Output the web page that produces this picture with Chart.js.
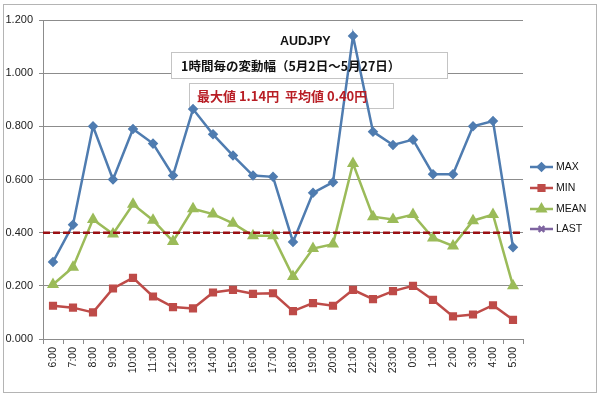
<!DOCTYPE html>
<html>
<head>
<meta charset="utf-8">
<script src="https://cdn.jsdelivr.net/npm/chart.js@4"></script>
<style>
    body { margin: 0; background: #fff; }
    #wrap { position: relative; width: 600px; height: 396px; }
    #frame { position: absolute; left: 3px; top: 4px; width: 592px; height: 387px; border: 1px solid #b4b4b4; pointer-events: none; }
    .txt { position: absolute; font-family: "Noto Sans CJK JP", sans-serif; font-weight: bold; white-space: nowrap; }
</style>
</head>
<body>
<div id="wrap">
    <canvas id="myChart" width="600" height="396"></canvas>
    <div id="frame"></div>
    <div class="txt" style="left:280px; top:34px; font-family:'Liberation Sans'; font-size:12.5px; color:#111;">AUDJPY</div>
    <div class="txt" style="left:181px; top:56px; font-size:12.5px; color:#111;">1時間毎の変動幅（5月2日～5月27日）</div>
    <div class="txt" style="left:197px; top:86px; font-size:13px; color:#b81d24;">最大値 1.14円&nbsp;&nbsp;平均値 0.40円</div>
</div>
<script>
var hours = ["6:00", "7:00", "8:00", "9:00", "10:00", "11:00", "12:00", "13:00", "14:00", "15:00", "16:00", "17:00",
    "18:00", "19:00", "20:00", "21:00", "22:00", "23:00", "0:00", "1:00", "2:00", "3:00", "4:00", "5:00"];
var maxValues = [0.29, 0.43, 0.80, 0.60, 0.79, 0.735, 0.615, 0.865, 0.77, 0.69, 0.615, 0.61,
    0.365, 0.55, 0.59, 1.14, 0.78, 0.73, 0.75, 0.62, 0.62, 0.80, 0.82, 0.345];
var minValues = [0.125, 0.118, 0.10, 0.19, 0.23, 0.16, 0.12, 0.115, 0.175, 0.185, 0.17, 0.172,
    0.105, 0.135, 0.125, 0.185, 0.15, 0.18, 0.20, 0.147, 0.085, 0.092, 0.127, 0.072];
var meanValues = [0.205, 0.27, 0.45, 0.395, 0.507, 0.447, 0.367, 0.49, 0.47, 0.435, 0.388, 0.388,
    0.235, 0.34, 0.357, 0.66, 0.46, 0.45, 0.468, 0.38, 0.35, 0.445, 0.468, 0.20];
var lastValues = [null, null, null, null, null, null, null, null, null, null, null, null,
    null, null, null, null, null, null, null, null, null, null, null, null];
var avgValue = 0.40;
var yTicks = [0, 0.2, 0.4, 0.6, 0.8, 1.0, 1.2];

// white text boxes behind the lines, dashed average line and the legend
var boxes = [[171, 52, 276, 26], [189, 83, 204, 25]];
var extras = {
    id: 'extras',
    beforeDatasetsDraw: function (chart) {
        var ctx = chart.ctx;
        ctx.save();
        ctx.fillStyle = "#fff";
        ctx.strokeStyle = "#c4c4c4";
        ctx.lineWidth = 1;
        boxes.forEach(function (b) {
            ctx.fillRect(b[0], b[1], b[2], b[3]);
            ctx.strokeRect(b[0] + 0.5, b[1] + 0.5, b[2], b[3]);
        });
        ctx.restore();
    },
    afterDatasetsDraw: function (chart) {
        var ctx = chart.ctx;
        var area = chart.chartArea;
        var y = chart.scales.y.getPixelForValue(avgValue);
        ctx.save();
        ctx.strokeStyle = "#9a1013";
        ctx.lineWidth = 2.5;
        ctx.setLineDash([7, 3]);
        ctx.beginPath();
        ctx.moveTo(area.left, y);
        ctx.lineTo(area.right, y);
        ctx.stroke();
        ctx.restore();
    },
    afterDraw: function (chart) {
        var ctx = chart.ctx;
        var ys = [167, 188, 209, 229];
        ctx.save();
        chart.data.datasets.forEach(function (ds, i) {
            var y = ys[i];
            ctx.strokeStyle = ds.borderColor;
            ctx.lineWidth = 2.5;
            ctx.setLineDash([]);
            ctx.beginPath();
            ctx.moveTo(530, y);
            ctx.lineTo(553, y);
            ctx.stroke();
            ctx.fillStyle = ds.pointBackgroundColor;
            ctx.strokeStyle = ds.borderColor;
            Chart.helpers.drawPoint(ctx, {
                pointStyle: ds.pointStyle,
                radius: ds.pointRadius,
                rotation: 0,
                borderWidth: 1.5
            }, 541.5, y);
            ctx.fillStyle = "#111";
            ctx.font = "10.5px 'Liberation Sans'";
            ctx.textBaseline = "middle";
            ctx.fillText(ds.label, 556, y + 0.5);
        });
        ctx.restore();
    }
};

const ctx = document.getElementById('myChart');
new Chart(ctx, {
    type: 'line',
    data: {
        labels: hours,
        datasets: [{
                label: 'MAX',
                data: maxValues,
                borderColor: '#4f7cb0',
                pointBackgroundColor: '#4f7cb0',
                pointBorderColor: '#4f7cb0',
                pointStyle: 'rectRot',
                pointRadius: 3.5,
                borderWidth: 2.5
            }, {
                label: 'MIN',
                data: minValues,
                borderColor: '#be4b48',
                pointBackgroundColor: '#be4b48',
                pointBorderColor: '#be4b48',
                pointStyle: 'rect',
                pointRadius: 4,
                borderWidth: 2.5
            }, {
                label: 'MEAN',
                data: meanValues,
                borderColor: '#9bbb59',
                pointBackgroundColor: '#9bbb59',
                pointBorderColor: '#9bbb59',
                pointStyle: 'triangle',
                pointRadius: 4.5,
                borderWidth: 2.5
            }, {
                label: 'LAST',
                data: lastValues,
                borderColor: '#7e64a0',
                pointBackgroundColor: '#7e64a0',
                pointBorderColor: '#7e64a0',
                pointStyle: 'crossRot',
                pointRadius: 4,
                borderWidth: 2.5
            }]
    },
    options: {
        responsive: false,
        animation: false,
        layout: {
            padding: {left: 0, top: 20, right: 77, bottom: 0}
        },
        elements: {
            line: {tension: 0}
        },
        plugins: {
            legend: {display: false},
            tooltip: {enabled: false}
        },
        scales: {
            x: {
                offset: true,
                afterFit: function (s) { s.height = 57; },
                grid: {offset: true, drawOnChartArea: false, tickLength: 5, color: '#8c8c8c'},
                border: {color: '#8c8c8c'},
                ticks: {
                    autoSkip: false,
                    minRotation: 90,
                    maxRotation: 90,
                    color: '#222',
                    font: {family: 'Liberation Sans', size: 10.5}
                }
            },
            y: {
                min: 0,
                max: 1.2,
                afterFit: function (s) { s.width = 43; },
                afterBuildTicks: function (s) {
                    s.ticks = yTicks.map(function (v) { return {value: v}; });
                },
                grid: {color: '#8c8c8c', tickLength: 4},
                border: {color: '#8c8c8c'},
                ticks: {
                    padding: 6,
                    color: '#222',
                    font: {family: 'Liberation Sans', size: 11},
                    callback: function (v) { return v.toFixed(3); }
                }
            }
        }
    },
    plugins: [extras]
});
</script>
</body>
</html>
